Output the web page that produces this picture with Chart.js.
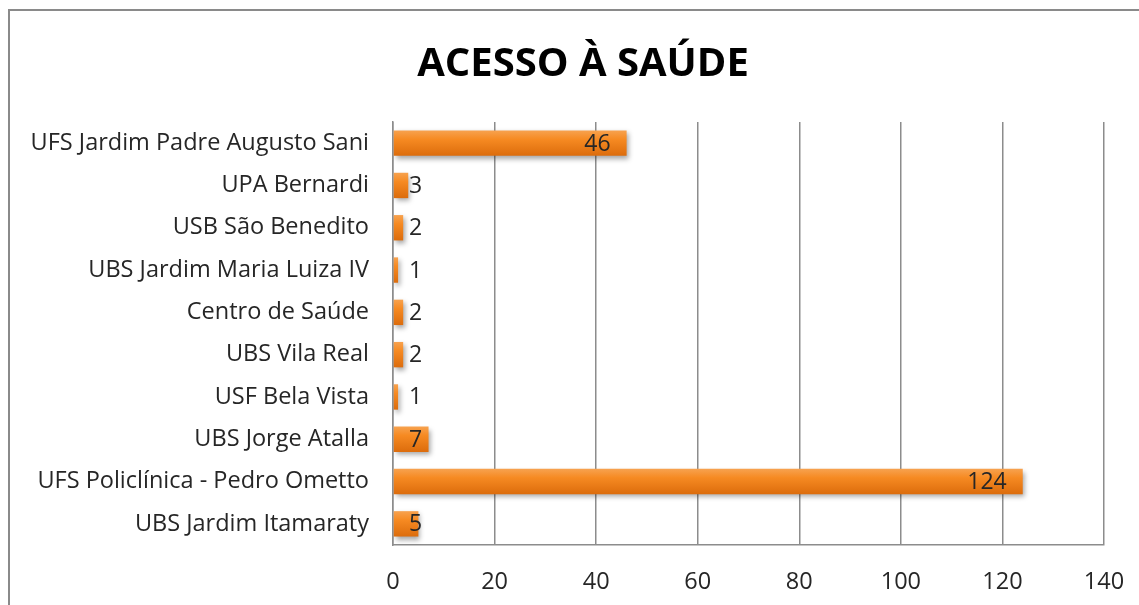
<!DOCTYPE html>
<html>
<head>
<meta charset="utf-8">
<script src="https://cdn.jsdelivr.net/npm/chart.js@4/dist/chart.umd.min.js"></script>
<style>
  html, body { margin: 0; padding: 0; background: #fff; }
  #wrap { width: 1139px; height: 605px; position: relative; }
</style>
</head>
<body>
<div id="wrap"><canvas id="acesso"></canvas></div>
<script>
const categories = [
  'UFS Jardim Padre Augusto Sani',
  'UPA Bernardi',
  'USB São Benedito',
  'UBS Jardim Maria Luiza IV',
  'Centro de Saúde',
  'UBS Vila Real',
  'USF Bela Vista',
  'UBS Jorge Atalla',
  'UFS Policlínica - Pedro Ometto',
  'UBS Jardim Itamaraty',
]
const values = [46, 3, 2, 1, 2, 2, 1, 7, 124, 5]
const xTicks = [0, 20, 40, 60, 80, 100, 120, 140]

const FONT = '"Open Sans", "Liberation Sans", sans-serif'

// orange bar with light top and darker bottom, like the office chart
function barGradient(context) {
  const chart = context.chart
  const y = chart.scales.y
  if (!chart.chartArea || !y || context.dataIndex === undefined) return '#f5841f'
  const c = y.getPixelForValue(context.dataIndex)
  const half = y.getPixelForValue(1) - y.getPixelForValue(0)
  const h = Math.abs(half) * 0.6 / 2
  const g = chart.ctx.createLinearGradient(0, c - h, 0, c + h)
  g.addColorStop(0, '#f7a24f')
  g.addColorStop(0.35, '#f68a22')
  g.addColorStop(1, '#dc6c0c')
  return g
}

// gray frame at top/left of picture
const frame = {
  id: 'frame',
  beforeDraw(chart) {
    const ctx = chart.ctx
    ctx.save()
    ctx.strokeStyle = '#8a8a8a'
    ctx.lineWidth = 2
    ctx.beginPath()
    ctx.moveTo(9, 700)
    ctx.lineTo(9, 10)
    ctx.lineTo(1200, 10)
    ctx.stroke()
    ctx.restore()
  }
}

// bar shadow
const shadow = {
  id: 'shadow',
  beforeDatasetDraw(chart) {
    const ctx = chart.ctx
    ctx.save()
    ctx.shadowColor = 'rgba(0,0,0,0.35)'
    ctx.shadowBlur = 5
    ctx.shadowOffsetX = 2
    ctx.shadowOffsetY = 3
  },
  afterDatasetDraw(chart) {
    chart.ctx.restore()
  }
}

// value labels at inside end, pushed right when the bar is too short
const valueLabels = {
  id: 'valueLabels',
  afterDatasetsDraw(chart) {
    const ctx = chart.ctx
    const meta = chart.getDatasetMeta(0)
    const left = chart.chartArea.left
    ctx.save()
    ctx.font = '23px ' + FONT
    ctx.fillStyle = '#262626'
    ctx.textBaseline = 'middle'
    ctx.textAlign = 'left'
    meta.data.forEach(function(bar, i) {
      const txt = String(values[i])
      const w = ctx.measureText(txt).width
      const x = Math.max(bar.x - 16 - w, left + 16)
      ctx.fillText(txt, x, bar.y + 1)
    })
    ctx.restore()
  }
}

const ctxAcesso = document.getElementById('acesso')
if(ctxAcesso) {
  const acesso = {
    type: 'bar',
    data: {
      labels: categories,
      datasets: [
        {
          label: 'Acesso',
          data: values,
          backgroundColor: barGradient,
          borderWidth: 0,
          barPercentage: 0.6,
          categoryPercentage: 1,
        },
      ],
    },
    options: {
      indexAxis: 'y',
      responsive: true,
      maintainAspectRatio: false,
      animation: false,
      layout: {
        padding: { left: 27, right: 0, top: 10, bottom: 9 },
      },
      scales: {
        x: {
          min: 0,
          max: 140,
          afterBuildTicks(axis) {
            axis.ticks = xTicks.map(v => ({ value: v }))
          },
          afterFit(axis) {
            axis.height = 51
            axis.paddingRight = 35
          },
          grid: { color: '#8c8c8c', lineWidth: 1.5, drawTicks: false },
          border: { display: true, color: '#8c8c8c', width: 1.5 },
          ticks: {
            color: '#262626',
            padding: 23,
            font: { family: FONT, size: 23.5 },
          },
        },
        y: {
          afterFit(axis) { axis.width = 366 },
          grid: { display: false, drawTicks: false },
          border: { display: true, color: '#8c8c8c', width: 1.5 },
          ticks: {
            color: '#262626',
            padding: 24,
            autoSkip: false,
            font: { family: FONT, size: 23.5 },
          },
        },
      },
      plugins: {
        legend: { display: false },
        tooltip: { enabled: false },
        title: {
          display: true,
          text: 'ACESSO À SAÚDE',
          color: '#000',
          font: { family: FONT, size: 40, weight: 'bold' },
          padding: { top: 31, bottom: 33 },
        },
      },
    },
    plugins: [frame, shadow, valueLabels],
  }

  window.myBar = new Chart(ctxAcesso, acesso)
}
</script>
</body>
</html>
